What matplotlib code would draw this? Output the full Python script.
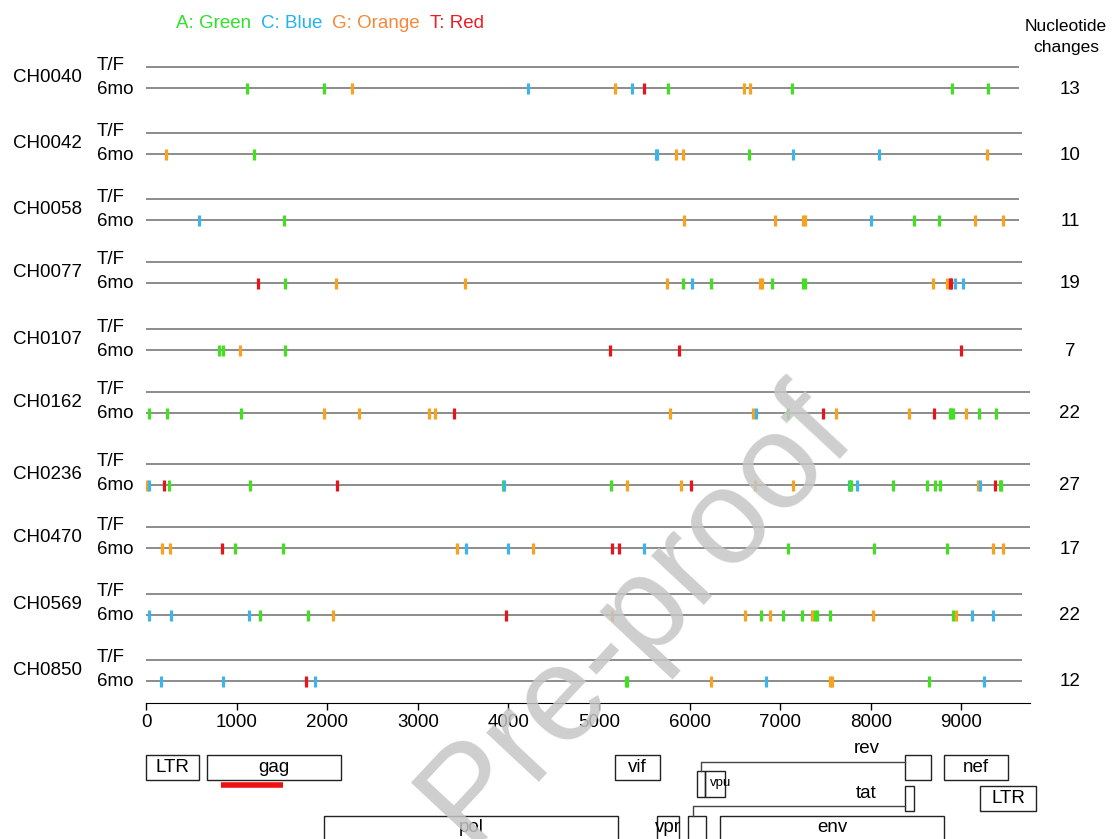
import numpy as np
import matplotlib.pyplot as plt
from matplotlib.patches import Rectangle
from matplotlib.transforms import blended_transform_factory

plt.rcParams['font.family'] = ['Liberation Sans', 'DejaVu Sans']

# Mutations in the 6 month sequence relative to the transmitted/founder virus
samples = ['CH0040', 'CH0042', 'CH0058', 'CH0077', 'CH0107',
           'CH0162', 'CH0236', 'CH0470', 'CH0569', 'CH0850']
changes = [13, 10, 11, 19, 7, 22, 27, 17, 22, 12]
genome_len = [9625, 9658, 9625, 9658, 9658, 9757, 9757, 9757, 9658, 9658]

ch0040_pos = [1115, 1965, 2274, 4216, 5177, 5364, 5497, 5762, 6600, 6667, 7130, 8896, 9294]
ch0040_nt = 'AAGCGCTAGGAAA'
ch0042_pos = [220, 1196, 5632, 5645, 5845, 5928, 6658, 7140, 8085, 9284]
ch0042_nt = 'GACCGGACCG'
ch0058_pos = [587, 1526, 5941, 6943, 7255, 7270, 7997, 8473, 8751, 9145, 9461]
ch0058_nt = 'CAGGGGCAAGG'
ch0077_pos = [1234, 1532, 2097, 3524, 5751, 5928, 6023, 6233, 6775, 6795, 6911,
              7250, 7272, 8687, 8846, 8870, 8890, 8929, 9018]
ch0077_nt = 'TAGGGACAGGAAAGGTTCC'
ch0107_pos = [802, 853, 1037, 1532, 5122, 5884, 8999]
ch0107_nt = 'AAGATTT'
ch0162_pos = [35, 232, 1050, 1970, 2351, 3125, 3188, 3404, 5783, 6696, 6728, 7090,
              7470, 7616, 8422, 8701, 8870, 8890, 8905, 9055, 9195, 9385]
ch0162_nt = 'AAAGGGGTGGCATGGTAAAGAA'
ch0236_pos = [15, 35, 200, 257, 1146, 2109, 3936, 3956, 5136, 5307, 5903, 6011,
              6727, 7146, 7755, 7770, 7785, 7850, 8250, 8624, 8706, 8764,
              9180, 9200, 9373, 9429, 9440]
ch0236_nt = 'GCTAATACAGGTGGCAACAAAAGCTAA'
ch0470_pos = [174, 270, 834, 987, 1507, 3429, 3531, 4000, 4273, 5148, 5218, 5497,
              7090, 8034, 8846, 9353, 9455]
ch0470_nt = 'GGTAAGCCGTTCAAAGG'
ch0569_pos = [35, 276, 1132, 1253, 1786, 2065, 3975, 5141, 6614, 6784, 6886, 7032,
              7241, 7356, 7387, 7406, 7546, 8022, 8910, 8935, 9113, 9353]
ch0569_nt = 'CCCAAGTGGAGAAGAAAGAGCC'
ch0850_pos = [169, 848, 1761, 1862, 5300, 5310, 6240, 6848, 7552, 7570, 8643, 9253]
ch0850_nt = 'CCTCAAGCGGAC'

all_pos = [ch0040_pos, ch0042_pos, ch0058_pos, ch0077_pos, ch0107_pos,
           ch0162_pos, ch0236_pos, ch0470_pos, ch0569_pos, ch0850_pos]
all_nt = [ch0040_nt, ch0042_nt, ch0058_nt, ch0077_nt, ch0107_nt,
          ch0162_nt, ch0236_nt, ch0470_nt, ch0569_nt, ch0850_nt]

nt_colors = {'A': '#40e21e', 'C': '#3cb4ec', 'G': '#f8a31b', 'T': '#e8131b'}
legend_labels = ['A: Green', 'C: Blue', 'G: Orange', 'T: Red']
legend_colors = ['#2ee12a', '#22b2ef', '#f5883a', '#ee1c24']

# genome map (HXB2-like coordinates)
gene_names = ['LTR', 'gag', 'vif', 'nef', 'LTR', 'pol', 'vpr', 'env', 'vpu']
gene_start = [0, 673, 5177, 8808, 9205, 1965, 5640, 6336, 6170]
gene_end = [585, 2152, 5673, 9514, 9823, 5210, 5883, 8808, 6391]
gene_row = [0, 0, 0, 0, 1, 2, 2, 2, 3]
rev_exons = [(6082, 6170), (8377, 8664)]
tat_exons = [(5982, 6181), (8377, 8477)]
p24_region = (828, 1512)

W, H = 1117, 839
FS = 13.5
fig = plt.figure(figsize=(W / 100, H / 100), dpi=100)

# main panel, y in pixel units so rows can be laid out directly
ax = fig.add_axes([146 / W, 1 - 703 / H, 884 / W, (703 - 40) / H])
ax.set_xlim(0, 9757)
ax.set_ylim(703, 40)
for s in ['top', 'right', 'left']:
    ax.spines[s].set_visible(False)
ax.set_yticks([])
ax.set_xticks(np.arange(0, 9001, 1000))
ax.tick_params(axis='x', labelsize=FS, length=5, width=1, pad=3)

ftrans = blended_transform_factory(fig.transFigure, ax.transData)
row_y = [88, 154, 220, 283, 350, 413, 485, 548, 615, 681]
for i, name in enumerate(samples):
    y6 = row_y[i]
    ytf = y6 - 21
    ax.plot([0, genome_len[i]], [ytf, ytf], color='#8c8c8c', lw=1.4, zorder=1)
    ax.plot([0, genome_len[i]], [y6, y6], color='#8c8c8c', lw=1.4, zorder=1)
    cols = [nt_colors[b] for b in all_nt[i]]
    ax.vlines(all_pos[i], y6 - 5.5, y6 + 5.5, colors=cols, lw=2.3, zorder=2)
    fig.text(13 / W, (ytf + y6) / 2, name, transform=ftrans, fontsize=FS,
             ha='left', va='center')
    fig.text(97 / W, ytf - 2, 'T/F', transform=ftrans, fontsize=FS,
             ha='left', va='center')
    fig.text(97 / W, y6 + 1, '6mo', transform=ftrans, fontsize=FS,
             ha='left', va='center')
    fig.text(1070 / W, y6 + 1, str(changes[i]), transform=ftrans, fontsize=FS,
             ha='center', va='center')

# colour key and column header
lx = 176
for lab, c in zip(legend_labels, legend_colors):
    t = fig.text(lx / W, 1 - 24 / H, lab, color=c, fontsize=FS, va='center')
    fig.canvas.draw()
    bb = t.get_window_extent()
    lx += bb.width + 10
fig.text(1066 / W, 1 - 37 / H, 'Nucleotide\nchanges', fontsize=12.5,
         ha='center', va='center', linespacing=1.45)

# genome map underneath
gx = fig.add_axes([146 / W, 0, 884 / W, 99 / H])
gx.set_xlim(0, 9757)
gx.set_ylim(839, 740)
gx.axis('off')
row_top = [755, 786, 816, 771]
row_h = [25, 25, 30, 26]
for name, a, b, r in zip(gene_names, gene_start, gene_end, gene_row):
    gx.add_patch(Rectangle((a, row_top[r]), b - a, row_h[r], fill=False,
                           ec='#222222', lw=1, clip_on=False))
    fs = 9.5 if name == 'vpu' else FS
    ty = row_top[r] + 12 if name in ('vpu',) else row_top[r] + row_h[r] / 2
    if r == 2:
        ty = row_top[r] + 12
    tx = (a + b) / 2 + (60 if name == 'vpu' else 0)
    gx.text(tx, ty, name, fontsize=fs, ha='center', va='center', clip_on=False)

# spliced rev
gx.add_patch(Rectangle((rev_exons[0][0], 771), rev_exons[0][1] - rev_exons[0][0], 26,
                       fill=False, ec='#222222', lw=1))
gx.add_patch(Rectangle((rev_exons[1][0], 755), rev_exons[1][1] - rev_exons[1][0], 25,
                       fill=False, ec='#222222', lw=1))
gx.plot([6126, 6126, rev_exons[1][0]], [771, 762, 762], color='#444444', lw=1)
gx.text(7950, 749, 'rev', fontsize=FS, ha='center', va='center')

# spliced tat
gx.add_patch(Rectangle((tat_exons[0][0], 816), tat_exons[0][1] - tat_exons[0][0], 30,
                       fill=False, ec='#222222', lw=1, clip_on=False))
gx.add_patch(Rectangle((tat_exons[1][0], 786), tat_exons[1][1] - tat_exons[1][0], 25,
                       fill=False, ec='#222222', lw=1))
gx.plot([6037, 6037, tat_exons[1][0]], [816, 806, 806], color='#444444', lw=1)
gx.text(7950, 794, 'tat', fontsize=FS, ha='center', va='center')

gx.plot(p24_region, [785, 785], color='#ee1111', lw=4, solid_capstyle='butt')

# watermark
fig.text(636 / W, 1 - 615 / H, 'Pre-proof', fontsize=98, color='#c6c6c6',
         alpha=0.85, rotation=47, ha='center', va='center', zorder=10)

fig.savefig('out.png', dpi=100)
